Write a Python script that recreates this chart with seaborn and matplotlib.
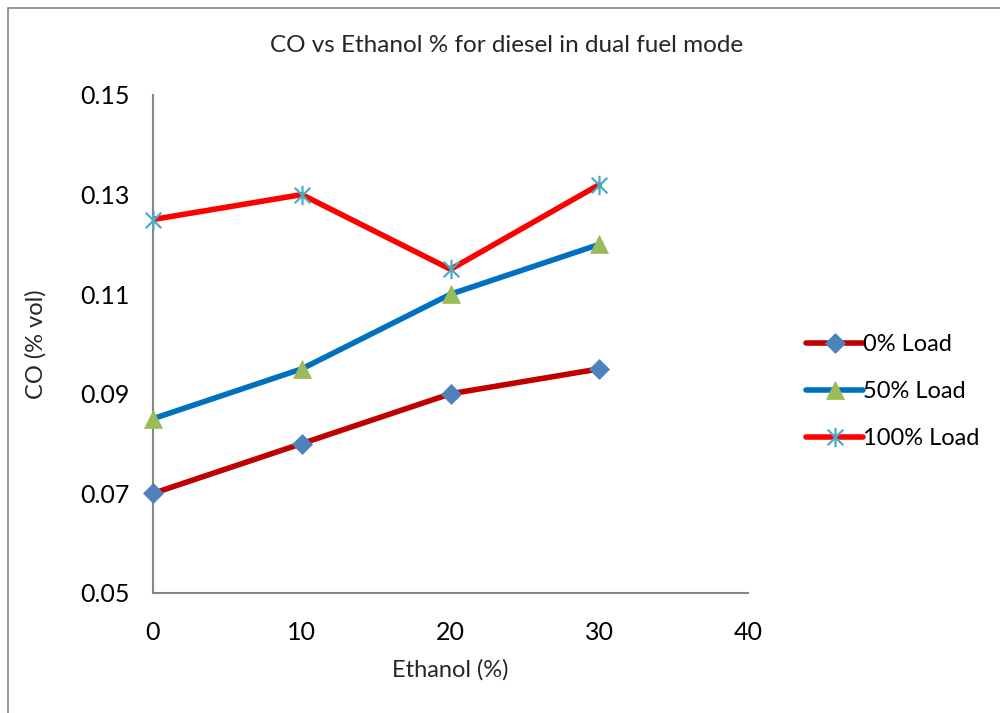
import matplotlib
matplotlib.use("Agg")
import matplotlib.pyplot as plt
import seaborn as sns
import pandas as pd
from matplotlib.patches import Rectangle
from matplotlib.path import Path
from matplotlib.lines import Line2D

ethanol = [0, 10, 20, 30]
load_0 = [0.07, 0.08, 0.09, 0.095]
load_50 = [0.085, 0.095, 0.11, 0.12]
load_100 = [0.125, 0.13, 0.115, 0.132]
series_names = ["0% Load", "50% Load", "100% Load"]
x_ticks = [0, 10, 20, 30, 40]
y_ticks = [0.05, 0.07, 0.09, 0.11, 0.13, 0.15]

sns.set_theme(style="white")
plt.rcParams['font.family'] = ['Lato', 'DejaVu Sans']

df = pd.DataFrame({
    "Ethanol": ethanol * 3,
    "CO": load_0 + load_50 + load_100,
    "Series": [series_names[0]] * 4 + [series_names[1]] * 4 + [series_names[2]] * 4,
})

asterisk = Path([(-1, -1), (1, 1), (-1, 1), (1, -1), (0, -1.25), (0, 1.25)],
                [Path.MOVETO, Path.LINETO, Path.MOVETO, Path.LINETO, Path.MOVETO, Path.LINETO])

fig = plt.figure(figsize=(10, 7.13), dpi=100)
ax = fig.add_axes([0.153, 1 - 593 / 713, (748 - 153) / 1000, (593 - 95) / 713])

line_colors = {"0% Load": "#C00000", "50% Load": "#0070C0", "100% Load": "#FF0000"}
markers = {"0% Load": "D", "50% Load": "^", "100% Load": asterisk}
mcolors = {"0% Load": "#4F81BD", "50% Load": "#9BBB59", "100% Load": "#4BACC6"}
msizes = {"0% Load": 10, "50% Load": 13, "100% Load": 14}
mew = {"0% Load": 0.5, "50% Load": 0.5, "100% Load": 1.6}

sns.lineplot(data=df, x="Ethanol", y="CO", hue="Series", palette=line_colors,
             linewidth=4, ax=ax, legend=False, sort=False)
for name in series_names:
    sub = df[df["Series"] == name]
    ax.plot(sub["Ethanol"], sub["CO"], linestyle="none", marker=markers[name],
            markersize=msizes[name], markerfacecolor=mcolors[name],
            markeredgecolor=mcolors[name], markeredgewidth=mew[name],
            zorder=5, clip_on=False)

handles = [Line2D([0], [0], color=line_colors[n], linewidth=4, marker=markers[n],
                  markersize=msizes[n], markerfacecolor=mcolors[n], markeredgecolor=mcolors[n],
                  markeredgewidth=mew[n]) for n in series_names]
leg = fig.legend(handles, series_names, loc="upper left", bbox_to_anchor=(0.797, 1 - 325 / 713),
                 frameon=False, fontsize=17, handlelength=2.4, handletextpad=0.0,
                 labelspacing=1.1, borderaxespad=0)
for t in leg.get_texts():
    t.set_color("black")

ax.set_xlim(0, 40)
ax.set_ylim(0.05, 0.15)
ax.set_xticks(x_ticks)
ax.set_yticks(y_ticks)
ax.set_xticklabels([str(v) for v in x_ticks])
ax.set_yticklabels([f"{v:.2f}" for v in y_ticks])
ax.tick_params(axis="both", length=0, labelsize=18, colors="black")
ax.tick_params(axis="x", pad=20)
ax.tick_params(axis="y", pad=17)
for s in ["top", "right"]:
    ax.spines[s].set_visible(False)
for s in ["left", "bottom"]:
    ax.spines[s].set_color("#868686")
    ax.spines[s].set_linewidth(1.5)
ax.set_xlabel("Ethanol (%)", fontsize=17, labelpad=11)
ax.set_ylabel("CO (% vol)", fontsize=17, labelpad=24)
fig.text(0.507, 1 - 45 / 713, "CO vs Ethanol % for diesel in dual fuel mode",
         ha="center", va="center", fontsize=17.5)

fig.patches.append(Rectangle((8 / 1000, -0.1), 1.2, 1 - 8 / 713 + 0.1, transform=fig.transFigure,
                             fill=False, edgecolor="#868686", linewidth=1.2))

fig.savefig("out.png", dpi=100)
